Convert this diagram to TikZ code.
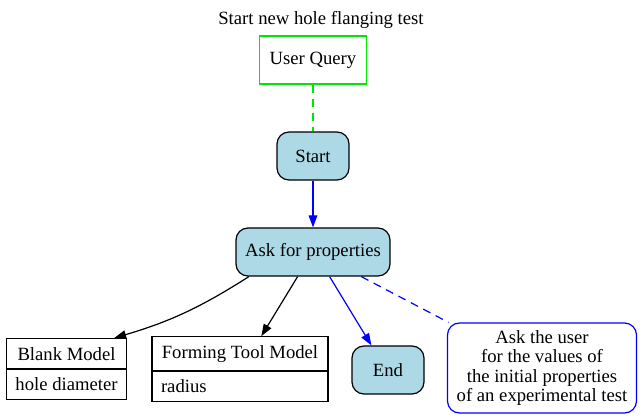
\documentclass[tikz,border=0pt]{standalone}
\usepackage{fontspec}
\setmainfont{Liberation Serif}
\usetikzlibrary{positioning,arrows.meta,shapes.multipart}
\definecolor{lightblue}{RGB}{173,216,230}
\definecolor{querygreen}{RGB}{0,230,0}

\begin{document}
\begin{tikzpicture}[x = 0.75pt, y = -0.75pt, line width = 0.9pt,
	>={Triangle[length=9pt, width=6.5pt]},
	font = \fontsize{14}{14.3}\selectfont,
	state/.style = {draw, fill = lightblue, rounded corners = 9pt, minimum height = 36pt, minimum width = 54pt},
	query/.style = {draw = querygreen, minimum height = 36pt, minimum width = 80.25pt},
	record/.style = {draw, rectangle split, rectangle split parts = 2, inner xsep = 6.75pt, inner ysep = 6pt},
	remark/.style = {draw = blue, rounded corners = 9pt, align = center, minimum width = 141.75pt, minimum height = 67.5pt},
	longdash/.style = {dash pattern = on 6pt off 4.5pt}]

\useasboundingbox (0, 0) rectangle (643, 420);

\node (title) at (321, 20) {Start new hole flanging test};
\node [query] (query) at (313, 60) {User Query};
\node [state] (start) at (313, 156) {Start};
\node [state, minimum width = 115.5pt] (ask) at (313, 252) {Ask for properties};

\node [record] (blank) at (66.5, 369) {Blank Model \nodepart{two} hole diameter};
\node [record, minimum width = 132pt, rectangle split part align = {center, left}] (tool) at (240, 369) {Forming Tool Model \nodepart{two} radius};
\node [state] (end) at (388, 370) {End};
\node [remark] (note) at (542, 368) {Ask the user\\for the values of\\the initial properties\\of an experimental test};

\draw [longdash, querygreen] (query)  --  (start);
\draw [->, blue] (start)  --  (ask);
\draw [->] (ask.201) to [bend left = 8] (blank.33);
\draw [->] (ask.238)  --  (tool.57);
\draw [->, blue] (ask.304)  --  (end.124);
\draw [longdash, blue] (ask.333)  --  (note.154);

\end{tikzpicture}
\end{document}
